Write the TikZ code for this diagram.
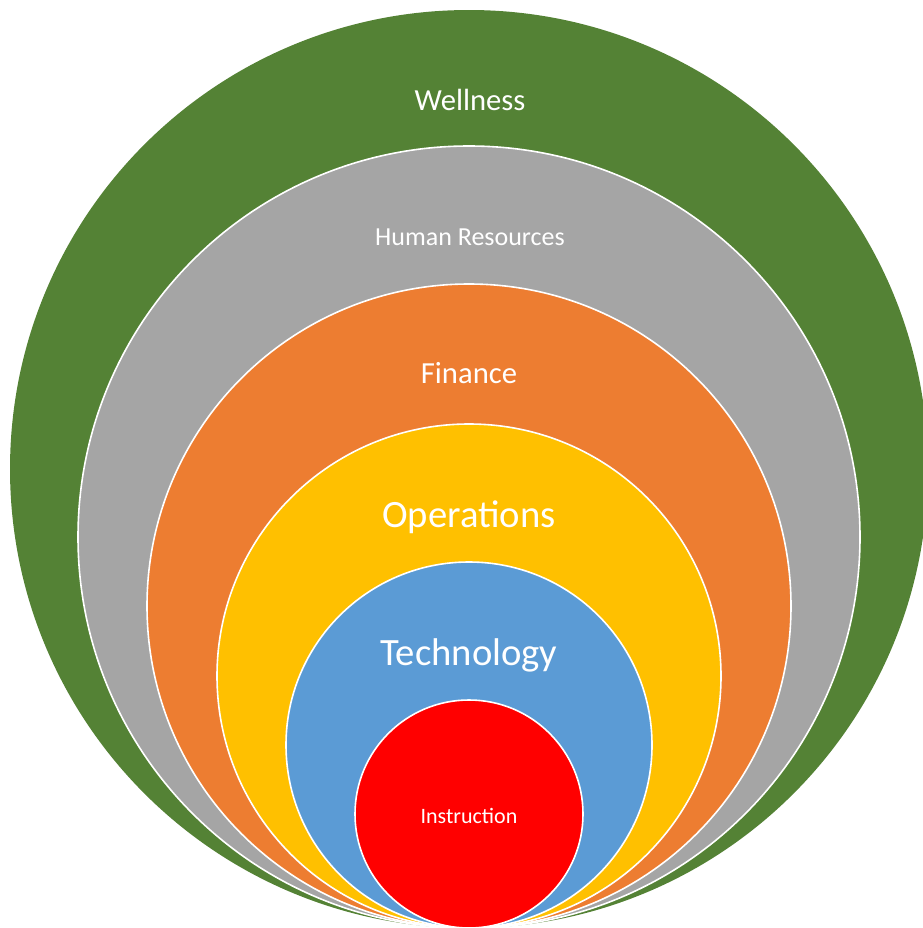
\documentclass[tikz,border=0pt]{standalone}
\usepackage{fontspec}
\setmainfont{Carlito}
\usepackage{tikz}

\definecolor{wellnessgreen}{RGB}{84,130,53}
\definecolor{hrgray}{RGB}{165,165,165}
\definecolor{financeorange}{RGB}{237,125,49}
\definecolor{opsyellow}{RGB}{255,192,0}
\definecolor{techblue}{RGB}{91,155,213}
\definecolor{instrred}{RGB}{255,0,0}

\tikzset{
ring/.style={draw=white, line width=1.2pt},
ringlabel/.style={anchor=base, text=white, inner sep=0pt},
}

\begin{document}
\begin{tikzpicture}[%
x=0.75pt, y=0.75pt,
]
\useasboundingbox (0,0) rectangle (923,-928);
\clip (0,0) rectangle (923,-928);
%% circles;
\fill [wellnessgreen] (469,-469) circle (459);
\filldraw [ring, fill=hrgray] (469,-537) circle (391);
\filldraw [ring, fill=financeorange] (469,-606) circle (322);
\filldraw [ring, fill=opsyellow] (469,-676) circle (252);
\filldraw [ring, fill=techblue] (469,-745) circle (183);
\filldraw [ring, fill=instrred] (469,-814) circle (114);
%% labels;
\node [ringlabel, font=\fontsize{23}{27}\selectfont] (wellness) at (470,-110) {Wellness};
\node [ringlabel, font=\fontsize{19.5}{23}\selectfont] (hr) at (470,-245) {Human Resources};
\node [ringlabel, font=\fontsize{23}{27}\selectfont] (finance) at (469,-383) {Finance};
\node [ringlabel, font=\fontsize{29}{34}\selectfont] (operations) at (469,-527) {Operations};
\node [ringlabel, font=\fontsize{29}{34}\selectfont] (technology) at (469,-665) {Technology};
\node [ringlabel, font=\fontsize{16.5}{20}\selectfont] (instruction) at (469,-823) {Instruction};
\end{tikzpicture}
\end{document}
